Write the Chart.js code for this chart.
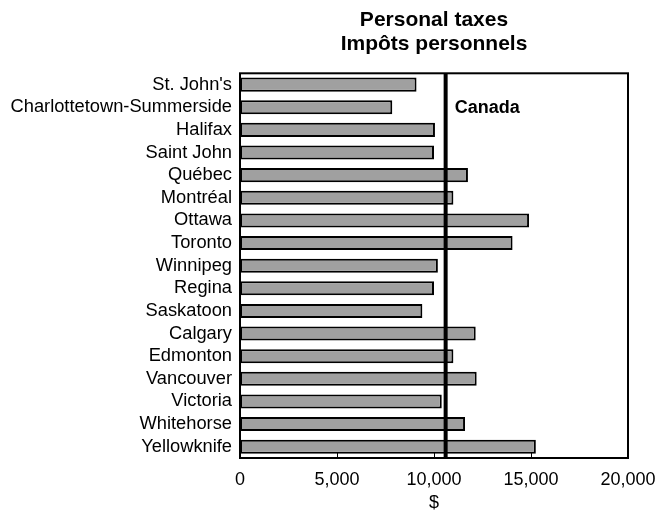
<!DOCTYPE html>
<html>
<head>
<meta charset="utf-8">
<title>Personal taxes</title>
<script src="https://cdn.jsdelivr.net/npm/chart.js@4.4.1/dist/chart.umd.min.js"></script>
<style>
    html, body { margin: 0; padding: 0; background: #fff; }
    #wrap { width: 655px; height: 512px; position: relative; }
</style>
</head>
<body>
<div id="wrap"><canvas id="grafico"></canvas></div>
<script>
// ========== dados ==========
const cidades = [
    "St. John's", 'Charlottetown-Summerside', 'Halifax', 'Saint John', 'Québec',
    'Montréal', 'Ottawa', 'Toronto', 'Winnipeg', 'Regina', 'Saskatoon',
    'Calgary', 'Edmonton', 'Vancouver', 'Victoria', 'Whitehorse', 'Yellowknife'
];
const impostos = [
    9100, 7850, 10050, 10000, 11750,
    11000, 14900, 14050, 10200, 10000, 9400,
    12150, 11000, 12200, 10400, 11600, 15250
];
const mediaCanada = 10600;
const rotuloCanada = 'Canada';
const titulo = ['Personal taxes', 'Impôts personnels'];
const tituloEixoX = '$';
const xTicks = [0, 5000, 10000, 15000, 20000];

const FONTE = "'Liberation Sans', Arial, sans-serif";

// moldura, marcas internas e linha do Canada
const pluginMoldura = {
    id: 'moldura',
    afterDatasetsDraw(chart) {
        const { ctx, chartArea, scales } = chart;
        const x = scales.x;
        ctx.save();

        // marcas de escala para dentro
        ctx.strokeStyle = '#000';
        ctx.lineWidth = 1;
        xTicks.forEach(v => {
            const px = Math.round(x.getPixelForValue(v)) + 0.5;
            ctx.beginPath();
            ctx.moveTo(px, chartArea.bottom);
            ctx.lineTo(px, chartArea.bottom - 6);
            ctx.stroke();
        });

        // linha da media
        const xc = x.getPixelForValue(mediaCanada);
        ctx.lineWidth = 4;
        ctx.beginPath();
        ctx.moveTo(xc, chartArea.top);
        ctx.lineTo(xc, chartArea.bottom);
        ctx.stroke();

        ctx.fillStyle = '#000';
        ctx.font = 'bold 18px ' + FONTE;
        ctx.textAlign = 'left';
        ctx.textBaseline = 'middle';
        ctx.fillText(rotuloCanada, xc + 9, chartArea.top + 35);

        // caixa
        ctx.lineWidth = 2;
        ctx.strokeRect(chartArea.left, chartArea.top,
            chartArea.right - chartArea.left, chartArea.bottom - chartArea.top);
        ctx.restore();
    }
};

new Chart(document.getElementById('grafico'), {
    type: 'bar',
    data: {
        labels: cidades,
        datasets: [{
            data: impostos,
            backgroundColor: '#a0a0a0',
            borderColor: '#000',
            borderWidth: 2,
            borderSkipped: false,
            barPercentage: 0.62,
            categoryPercentage: 1
        }]
    },
    options: {
        indexAxis: 'y',
        responsive: true,
        maintainAspectRatio: false,
        animation: false,
        layout: { padding: { left: 0, right: 27, top: 0, bottom: 0 } },
        plugins: {
            legend: { display: false },
            tooltip: { enabled: false },
            title: {
                display: true,
                text: titulo,
                fullSize: false,
                color: '#000',
                font: { family: FONTE, size: 21, weight: 'bold', lineHeight: 1.15 },
                padding: { top: 8, bottom: 17 }
            }
        },
        scales: {
            x: {
                min: 0,
                max: 20000,
                afterFit: s => {
                    s.height = 54;
                    s.paddingLeft = 0;
                    s.paddingRight = 0;
                },
                afterBuildTicks: s => { s.ticks = xTicks.map(v => ({ value: v })); },
                grid: { display: false, drawTicks: false },
                border: { display: false },
                ticks: {
                    color: '#000',
                    padding: 11,
                    maxRotation: 0,
                    font: { family: FONTE, size: 18 },
                    callback: v => v.toLocaleString('en-US')
                },
                title: {
                    display: true,
                    text: tituloEixoX,
                    color: '#000',
                    padding: { top: 0, bottom: -2 },
                    font: { family: FONTE, size: 18 }
                }
            },
            y: {
                afterFit: s => { s.width = 240; },
                grid: { display: false, drawTicks: false },
                border: { display: false },
                ticks: {
                    color: '#000',
                    padding: 8,
                    autoSkip: false,
                    font: { family: FONTE, size: 18.3 }
                }
            }
        }
    },
    plugins: [pluginMoldura]
});
</script>
</body>
</html>
